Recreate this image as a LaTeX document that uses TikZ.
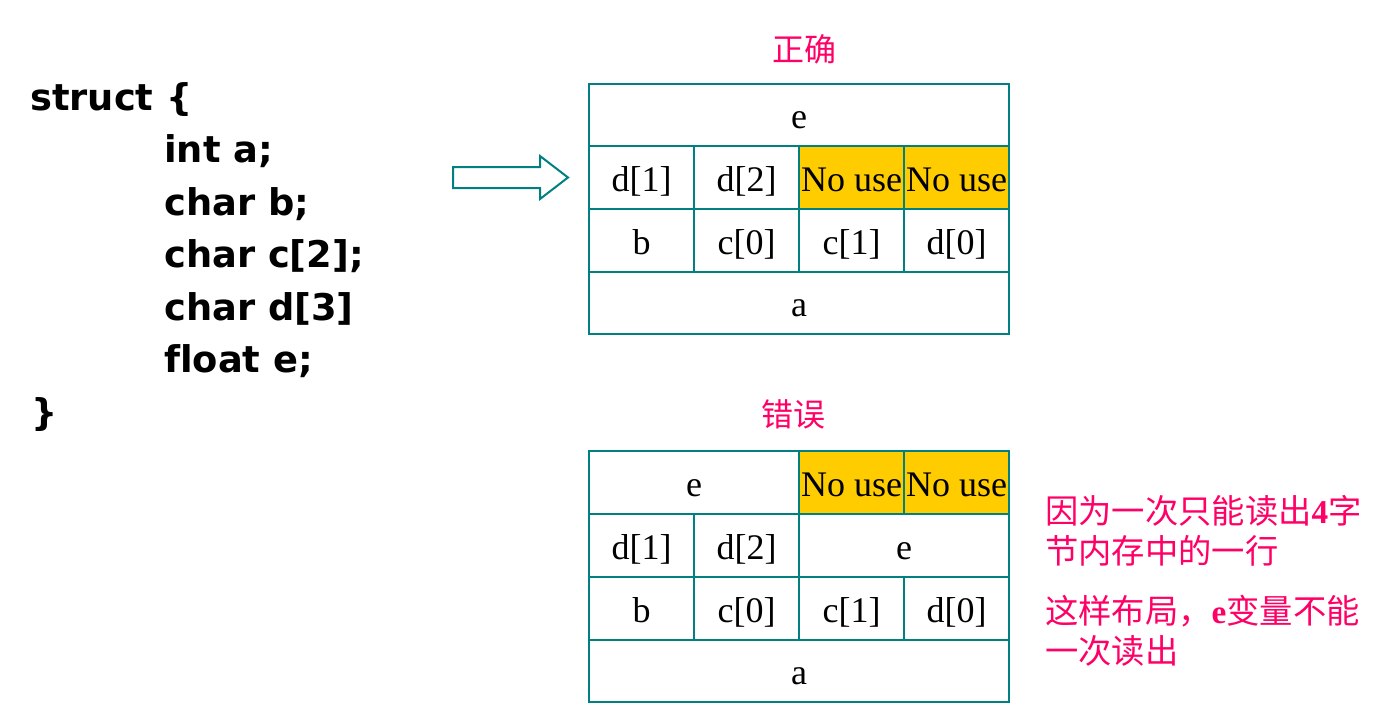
\documentclass[tikz,border=0pt]{standalone}
\usepackage{fontspec}
\setmainfont{Liberation Serif}
\newfontfamily\cjk{Noto Sans CJK SC}
\newfontfamily\codefont{DejaVu Sans}
\definecolor{tealc}{HTML}{008080}
\definecolor{gold}{HTML}{FFCC00}
\definecolor{pinkred}{HTML}{FF0066}
\begin{document}
\begin{tikzpicture}[x=1pt,y=-1pt,
  cellline/.style={draw=tealc,line width=2.2pt},
  celltxt/.style={anchor=base,inner sep=0pt,font=\fontsize{36}{40}\selectfont},
  codetxt/.style={anchor=base west,inner sep=0pt,font=\codefont\bfseries\fontsize{36.8}{40}\selectfont},
  title/.style={inner sep=0pt,text=pinkred,font=\cjk\fontsize{32}{34}\selectfont},
  note/.style={anchor=base west,inner sep=0pt,text=pinkred,font=\cjk\fontsize{33.3}{36}\selectfont}]
\useasboundingbox (0,0) rectangle (1394,723);
% code
\node[codetxt] (l1) at (30,110) {struct \{};
\node[codetxt] (l2) at (164,162.5) {int a;};
\node[codetxt] (l3) at (164,215) {char b;};
\node[codetxt] (l4) at (164,267.5) {char c[2];};
\node[codetxt] (l5) at (164,320) {char d[3]};
\node[codetxt] (l6) at (164,372.5) {f\kern0pt loat e;};
\node[codetxt] (l7) at (31,425) {\}};
% arrow
\draw[draw=tealc,line width=2pt,fill=white] (453,167) -- (540,167) -- (540,156) -- (568,177.5) -- (540,199) -- (540,188) -- (453,188) -- cycle;
% titles
\node[title] (t1) at (804,49) {正确};
\node[title] (t2) at (793,414) {错误};
% top table
\fill[gold] (799,146) rectangle (1009,209);
\draw[cellline] (589,84) rectangle (1009,334);
\draw[cellline] (589,146) -- (1009,146);
\draw[cellline] (589,209) -- (1009,209);
\draw[cellline] (589,272) -- (1009,272);
\foreach \x in {694,799,904} \draw[cellline] (\x,146) -- (\x,272);
\node[celltxt] (te) at (799,128) {e};
\node[celltxt] (td1) at (641.5,191) {d[1]};
\node[celltxt] (td2) at (746.5,191) {d[2]};
\node[celltxt] (tn1) at (851.5,191) {No use};
\node[celltxt] (tn2) at (956.5,191) {No use};
\node[celltxt] (tb) at (641.5,254) {b};
\node[celltxt] (tc0) at (746.5,254) {c[0]};
\node[celltxt] (tc1) at (851.5,254) {c[1]};
\node[celltxt] (td0) at (956.5,254) {d[0]};
\node[celltxt] (ta) at (799,316) {a};
% bottom table
\fill[gold] (799,451) rectangle (1009,514);
\draw[cellline] (589,451) rectangle (1009,702);
\draw[cellline] (589,514) -- (1009,514);
\draw[cellline] (589,577) -- (1009,577);
\draw[cellline] (589,640) -- (1009,640);
\draw[cellline] (799,451) -- (799,640);
\draw[cellline] (904,451) -- (904,514);
\draw[cellline] (694,514) -- (694,640);
\draw[cellline] (904,577) -- (904,640);
\node[celltxt] (be) at (694,496) {e};
\node[celltxt] (bn1) at (851.5,496) {No use};
\node[celltxt] (bn2) at (956.5,496) {No use};
\node[celltxt] (bd1) at (641.5,559) {d[1]};
\node[celltxt] (bd2) at (746.5,559) {d[2]};
\node[celltxt] (be2) at (904,559) {e};
\node[celltxt] (bb) at (641.5,622) {b};
\node[celltxt] (bc0) at (746.5,622) {c[0]};
\node[celltxt] (bc1) at (851.5,622) {c[1]};
\node[celltxt] (bd0) at (956.5,622) {d[0]};
\node[celltxt] (ba) at (799,684) {a};
% notes
\node[note] (n1) at (1045,523) {因为一次只能读出{\rmfamily\bfseries 4}字};
\node[note] (n2) at (1045,563) {节内存中的一行};
\node[note] (n3) at (1045,623) {这样布局，{\rmfamily\bfseries e}变量不能};
\node[note] (n4) at (1045,663) {一次读出};
\end{tikzpicture}
\end{document}
